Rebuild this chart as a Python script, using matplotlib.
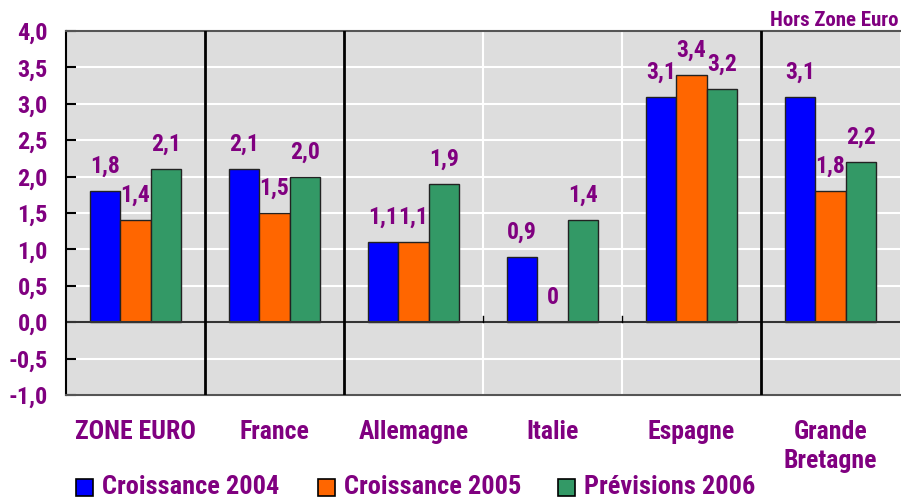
import matplotlib
matplotlib.use("Agg")
import matplotlib.pyplot as plt
from matplotlib.patches import Rectangle
import numpy as np

categories = ["ZONE EURO", "France", "Allemagne", "Italie", "Espagne", "Grande\nBretagne"]
series_names = ["Croissance 2004", "Croissance 2005", "Prévisions 2006"]
croissance_2004 = [1.8, 2.1, 1.1, 0.9, 3.1, 3.1]
croissance_2005 = [1.4, 1.5, 1.1, 0.0, 3.4, 1.8]
previsions_2006 = [2.1, 2.0, 1.9, 1.4, 3.2, 2.2]
labels_2004 = ["1,8", "2,1", "1,1", "0,9", "3,1", "3,1"]
labels_2005 = ["1,4", "1,5", "1,1", "0", "3,4", "1,8"]
labels_2006 = ["2,1", "2,0", "1,9", "1,4", "3,2", "2,2"]
yticks = [-1.0, -0.5, 0.0, 0.5, 1.0, 1.5, 2.0, 2.5, 3.0, 3.5, 4.0]
ytick_labels = ["-1,0", "-0,5", "0,0", "0,5", "1,0", "1,5", "2,0", "2,5", "3,0", "3,5", "4,0"]
colors = ["#0000FF", "#FF6600", "#339966"]
purple = "#800080"

plt.rcParams['font.family'] = ['Roboto Condensed', 'PT Sans Narrow', 'Liberation Sans', 'DejaVu Sans']

W, H = 901, 499
fig = plt.figure(figsize=(W / 100, H / 100), dpi=100)
ax = fig.add_axes([66 / W, 104 / H, 834 / W, 364 / H])
ax.set_facecolor("#DDDDDD")

x = np.arange(len(categories))
w = 0.22
series = [croissance_2004, croissance_2005, previsions_2006]
labels = [labels_2004, labels_2005, labels_2006]

for yv in yticks:
    ax.axhline(yv, color="white", lw=1.5, zorder=0.5)
for xv in [2.5, 3.5]:
    ax.axvline(xv, color="white", lw=1.5, zorder=0.5)
for xv in [0.5, 1.5, 4.5]:
    ax.axvline(xv, color="black", lw=2, zorder=3)

FS = 17
for i, (vals, labs) in enumerate(zip(series, labels)):
    pos = x + (i - 1) * w
    ax.bar(pos, vals, width=w, color=colors[i], edgecolor="#222222", linewidth=1, zorder=2)
    for p, v, l in zip(pos, vals, labs):
        ax.text(p, v + 0.34, l, ha="center", va="center", color=purple,
                fontsize=FS, fontweight="bold", zorder=4)

ax.axhline(0, color="#333333", lw=1.5, zorder=2.5)
for xv in [2.5, 3.5]:
    ax.plot([xv, xv], [0, 0.08], color="black", lw=1, zorder=3)

ax.set_xlim(-0.5, 5.5)
ax.set_ylim(-1.0, 4.0)
ax.set_yticks(yticks)
ax.set_yticklabels(ytick_labels, fontsize=17.5, fontweight="bold", color=purple)
ax.tick_params(axis="y", direction="in", length=7, width=1.5, color="black", pad=13)
ax.set_xticks(x)
ax.set_xticklabels(categories, fontsize=18.5, fontweight="bold", color=purple, va="top")
ax.tick_params(axis="x", length=0, pad=18)
for lbl in ax.get_xticklabels():
    lbl.set_linespacing(1.25)

for s in ["top", "bottom"]:
    ax.spines[s].set_color("#555555")
    ax.spines[s].set_linewidth(1.5)
ax.spines["left"].set_color("black")
ax.spines["left"].set_linewidth(1.5)
ax.spines["right"].set_visible(False)

fig.text(898 / W, 1 - 20 / H, "Hors Zone Euro", ha="right", va="center",
         color=purple, fontsize=15, fontweight="bold")

# legend
leg_x = [76, 318, 558]
leg_y = 487
sq = 17
for lx, c, name in zip(leg_x, colors, series_names):
    fig.patches.append(Rectangle((lx / W, (H - leg_y - sq / 2) / H), sq / W, sq / H,
                                 facecolor=c, edgecolor="black", linewidth=1.2,
                                 transform=fig.transFigure, figure=fig))
    fig.text((lx + 26) / W, 1 - leg_y / H, name, ha="left", va="center",
             color=purple, fontsize=19, fontweight="bold")

fig.savefig("out.png", dpi=100)
